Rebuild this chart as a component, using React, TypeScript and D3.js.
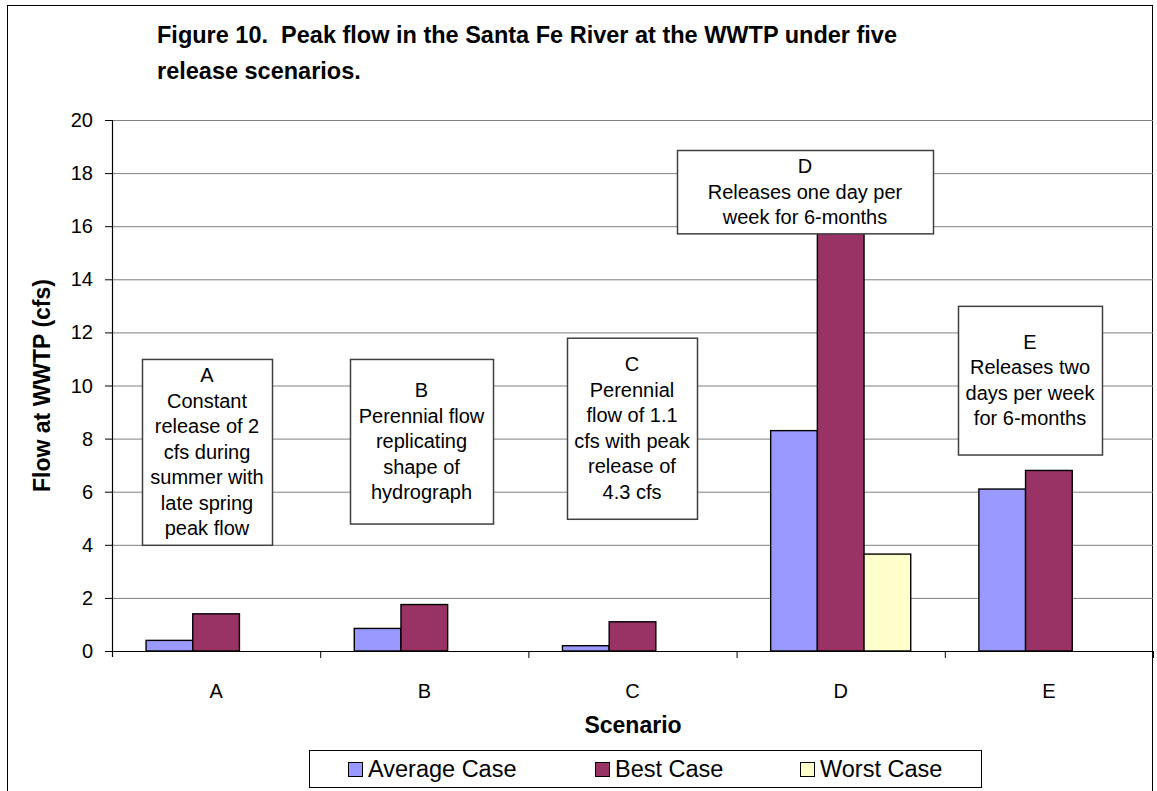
import React from "react";
import * as d3 from "d3";

const categories = ["A", "B", "C", "D", "E"];
const seriesNames = ["Average Case", "Best Case", "Worst Case"];
const averageCase = [0.4, 0.85, 0.2, 8.3, 6.1];
const bestCase = [1.4, 1.75, 1.1, 17, 6.8];
const worstCase = [0, 0, 0, 3.65, 0];
const yTicks = [0, 2, 4, 6, 8, 10, 12, 14, 16, 18, 20];
const titleLines = [
  "Figure 10.  Peak flow in the Santa Fe River at the WWTP under five",
  "release scenarios.",
];
const noteA = ["A", "Constant", "release of 2", "cfs during", "summer with", "late spring", "peak flow"];
const noteB = ["B", "Perennial flow", "replicating", "shape of", "hydrograph"];
const noteC = ["C", "Perennial", "flow of 1.1", "cfs with peak", "release of", "4.3 cfs"];
const noteD = ["D", "Releases one day per", "week for 6-months"];
const noteE = ["E", "Releases two", "days per week", "for 6-months"];

// annotation box layout (pixel box: left, right; value range top/bottom)
const noteLayout = [
  { lines: noteA, x0: 142, x1: 272, vTop: 11.0, vBot: 4.0 },
  { lines: noteB, x0: 350, x1: 493, vTop: 11.0, vBot: 4.8 },
  { lines: noteC, x0: 567, x1: 697, vTop: 11.8, vBot: 4.98 },
  { lines: noteD, x0: 677, x1: 933, vTop: 18.87, vBot: 15.73 },
  { lines: noteE, x0: 958, x1: 1102, vTop: 13.0, vBot: 7.4 },
];

const colors = ["#9999FF", "#993366", "#FFFFCC"];
const FONT = "'Liberation Sans', Arial, Helvetica, sans-serif";

export default function App() {
  const W = 1157;
  const H = 791;
  const left = 112;
  const right = 1153;
  const top = 120;
  const bottom = 651;

  const x0 = d3.scaleBand<string>().domain(categories).range([left, right]).paddingInner(0).paddingOuter(0);
  const x1 = d3
    .scaleBand<string>()
    .domain(seriesNames)
    .range([0, x0.bandwidth()])
    .paddingInner(0)
    .paddingOuter(0.73);
  const y = d3.scaleLinear().domain([0, 20]).range([bottom, top]);

  const seriesValues = [averageCase, bestCase, worstCase];
  const lineH = 25.5;

  return (
    <svg width={W} height={H} style={{ position: "absolute", left: 0, top: 0, display: "block" }} fontFamily={FONT}>
      <rect x={0} y={0} width={W} height={H} fill="#fff" />
      {/* chart frame */}
      <rect x={7.5} y={5.5} width={1145} height={820} fill="none" stroke="#000" strokeWidth={1} />

      {/* title */}
      {titleLines.map((t, i) => (
        <text key={i} x={157} y={43 + i * 36} fontSize={23.5} fontWeight="bold" style={{ whiteSpace: "pre" }}>
          {t}
        </text>
      ))}

      {/* gridlines */}
      {yTicks.filter((v) => v > 0).map((v) => (
        <line key={v} x1={left} x2={right} y1={y(v) + 0.5} y2={y(v) + 0.5} stroke="#808080" strokeWidth={1} />
      ))}

      {/* bars */}
      {categories.map((c, ci) =>
        seriesNames.map((s, si) => {
          const v = seriesValues[si][ci];
          if (v <= 0) return null;
          const bx = (x0(c) as number) + (x1(s) as number);
          return (
            <rect
              key={c + s}
              x={bx}
              y={y(v)}
              width={x1.bandwidth()}
              height={y(0) - y(v)}
              fill={colors[si]}
              stroke="#000"
              strokeWidth={1.4}
            />
          );
        })
      )}

      {/* y axis */}
      <line x1={left + 0.5} x2={left + 0.5} y1={top} y2={bottom + 6} stroke="#000" strokeWidth={1.2} />
      {yTicks.map((v) => (
        <g key={v}>
          <line x1={left - 7} x2={left} y1={y(v) + 0.5} y2={y(v) + 0.5} stroke="#000" strokeWidth={1} />
          <text x={93} y={y(v) + 7} fontSize={20} textAnchor="end">
            {v}
          </text>
        </g>
      ))}
      {/* x axis */}
      <line x1={left - 7} x2={right} y1={bottom + 0.5} y2={bottom + 0.5} stroke="#000" strokeWidth={1.2} />
      {categories.map((c) => (
        <line key={"t" + c} x1={(x0(c) as number) + x0.bandwidth() + 0.5} x2={(x0(c) as number) + x0.bandwidth() + 0.5} y1={bottom} y2={bottom + 7} stroke="#000" strokeWidth={1} />
      ))}
      {categories.map((c) => (
        <text key={"l" + c} x={(x0(c) as number) + x0.bandwidth() / 2} y={698} fontSize={20} textAnchor="middle">
          {c}
        </text>
      ))}

      {/* axis titles */}
      <text x={633} y={733} fontSize={23} fontWeight="bold" textAnchor="middle">
        Scenario
      </text>
      <text
        transform={`translate(50, ${(top + bottom) / 2}) rotate(-90)`}
        fontSize={23}
        fontWeight="bold"
        textAnchor="middle"
      >
        Flow at WWTP (cfs)
      </text>

      {/* annotation boxes */}
      {noteLayout.map((n, i) => {
        const yt = y(n.vTop);
        const yb = y(n.vBot);
        const cx = (n.x0 + n.x1) / 2;
        const cy = (yt + yb) / 2;
        const startY = cy - ((n.lines.length - 1) * lineH) / 2;
        return (
          <g key={"n" + i}>
            <rect x={n.x0 + 0.5} y={yt + 0.5} width={n.x1 - n.x0} height={yb - yt} fill="#fff" stroke="#404040" strokeWidth={1.5} />
            {n.lines.map((l, li) => (
              <text key={li} x={cx} y={startY + li * lineH + 7} fontSize={20} textAnchor="middle">
                {l}
              </text>
            ))}
          </g>
        );
      })}

      {/* legend */}
      <rect x={309.5} y={750.5} width={672} height={37} fill="#fff" stroke="#000" strokeWidth={1} />
      {seriesNames.map((s, i) => {
        const lx = [348, 595, 800][i];
        return (
          <g key={"lg" + s}>
            <rect x={lx + 0.5} y={762.5} width={14} height={14} fill={colors[i]} stroke="#000" strokeWidth={1} />
            <text x={lx + 20} y={777} fontSize={23.5}>
              {s}
            </text>
          </g>
        );
      })}
    </svg>
  );
}
